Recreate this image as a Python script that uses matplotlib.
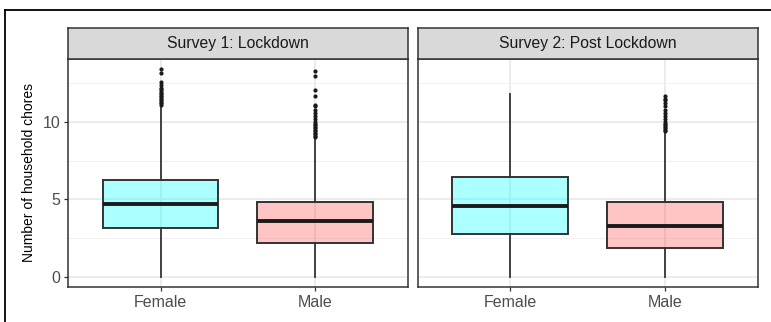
import matplotlib
matplotlib.use("Agg")
import matplotlib.pyplot as plt
from matplotlib.lines import Line2D

plt.rcParams['font.family'] = ['Liberation Sans', 'DejaVu Sans']

# ---- data ----
surveys = ["Survey 1: Lockdown", "Survey 2: Post Lockdown"]
genders = ["Female", "Male"]

# five-number summaries per survey, order: Female, Male
whislo = [[0.0, 0.0], [0.0, 0.0]]
q1 = [[3.12, 2.15], [2.75, 1.85]]
med = [[4.72, 3.62], [4.59, 3.25]]
q3 = [[6.27, 4.85], [6.42, 4.85]]
whishi = [[11.0, 8.9], [11.83, 9.3]]

outliers_s1_female = [11.1, 11.2, 11.3, 11.4, 11.5, 11.6, 11.7, 11.8, 11.9, 12.0,
                      12.1, 12.2, 12.4, 12.6, 13.17, 13.42]
outliers_s1_male = [9.0, 9.1, 9.2, 9.3, 9.4, 9.5, 9.6, 9.7, 9.8, 9.9, 10.0, 10.2,
                    10.4, 10.6, 10.8, 11.0, 11.1, 11.7, 12.04, 13.0, 13.27]
outliers_s2_female = []
outliers_s2_male = [9.4, 9.5, 9.6, 9.7, 9.8, 9.9, 10.0, 10.2, 10.4, 10.6, 10.8,
                    11.0, 11.2, 11.4, 11.5, 11.65]
outliers = [[outliers_s1_female, outliers_s1_male],
            [outliers_s2_female, outliers_s2_male]]

y_ticks = [0, 5, 10]
y_minor = [2.5, 7.5, 12.5]
fill_colors = [("#00FFFF", 0.33), ("#FF0000", 0.23)]

# ---- figure ----
W, H = 771, 322
fig = plt.figure(figsize=(W / 100, H / 100), dpi=100)

def fx(px):
    return px / W

def fy(py):
    return 1 - py / H

panel_x = [(68, 407.5), (417.5, 758)]
panel_top, panel_bot, strip_top = 59, 287, 28

for si, survey in enumerate(surveys):
    x0, x1 = panel_x[si]
    ax = fig.add_axes([fx(x0), fy(panel_bot), fx(x1 - x0), (panel_bot - panel_top) / H])
    ax.set_xlim(0.4, 2.6)
    ax.set_ylim(-0.67, 14.07)

    # grid
    for y in y_minor:
        ax.axhline(y, color="#F2F2F2", lw=0.7, zorder=0)
    for y in y_ticks:
        ax.axhline(y, color="#EBEBEB", lw=1.3, zorder=0)
    for x in [1, 2]:
        ax.axvline(x, color="#EBEBEB", lw=1.3, zorder=0)

    stats = []
    for gi, g in enumerate(genders):
        stats.append(dict(label=g, whislo=whislo[si][gi], q1=q1[si][gi], med=med[si][gi],
                          q3=q3[si][gi], whishi=whishi[si][gi], fliers=outliers[si][gi]))
    bp = ax.bxp(stats, positions=[1, 2], widths=0.75, patch_artist=True, showcaps=False,
                boxprops=dict(edgecolor="#333333", linewidth=1.4),
                whiskerprops=dict(color="#333333", linewidth=1.3),
                medianprops=dict(color="#1A1A1A", linewidth=2.8),
                flierprops=dict(marker="o", markersize=2.0, markerfacecolor="#1A1A1A",
                                markeredgecolor="#1A1A1A", linestyle="none"))
    for patch, (c, a) in zip(bp["boxes"], fill_colors):
        patch.set_facecolor(matplotlib.colors.to_rgba(c, a))
        patch.set_zorder(2)

    ax.set_yticks(y_ticks)
    ax.set_xticks([1, 2])
    ax.set_xticklabels(genders)
    ax.tick_params(axis="both", length=3, width=0.9, color="#333333",
                   labelcolor="#4D4D4D", labelsize=11.5, pad=2.5)
    if si == 1:
        ax.tick_params(axis="y", left=False, labelleft=False)
    else:
        ax.set_ylabel("Number of household chores", fontsize=10, color="black", labelpad=5)
    for sp in ax.spines.values():
        sp.set_color("#333333")
        sp.set_linewidth(1.1)

    # facet strip
    sax = fig.add_axes([fx(x0), fy(panel_top), fx(x1 - x0), (panel_top - strip_top) / H])
    sax.set_xticks([])
    sax.set_yticks([])
    sax.set_facecolor("#D9D9D9")
    for sp in sax.spines.values():
        sp.set_color("#333333")
        sp.set_linewidth(1.1)
    sax.text(0.5, 0.5, survey, ha="center", va="center", fontsize=11.3, color="#1A1A1A",
             transform=sax.transAxes)

# outer frame lines (left and top)
fig.add_artist(Line2D([fx(4.5), fx(4.5)], [fy(9.5), 0], color="black", lw=1.3,
                      transform=fig.transFigure))
fig.add_artist(Line2D([fx(4.5), 1], [fy(9.5), fy(9.5)], color="black", lw=1.3,
                      transform=fig.transFigure))

fig.savefig("out.png", dpi=100)
